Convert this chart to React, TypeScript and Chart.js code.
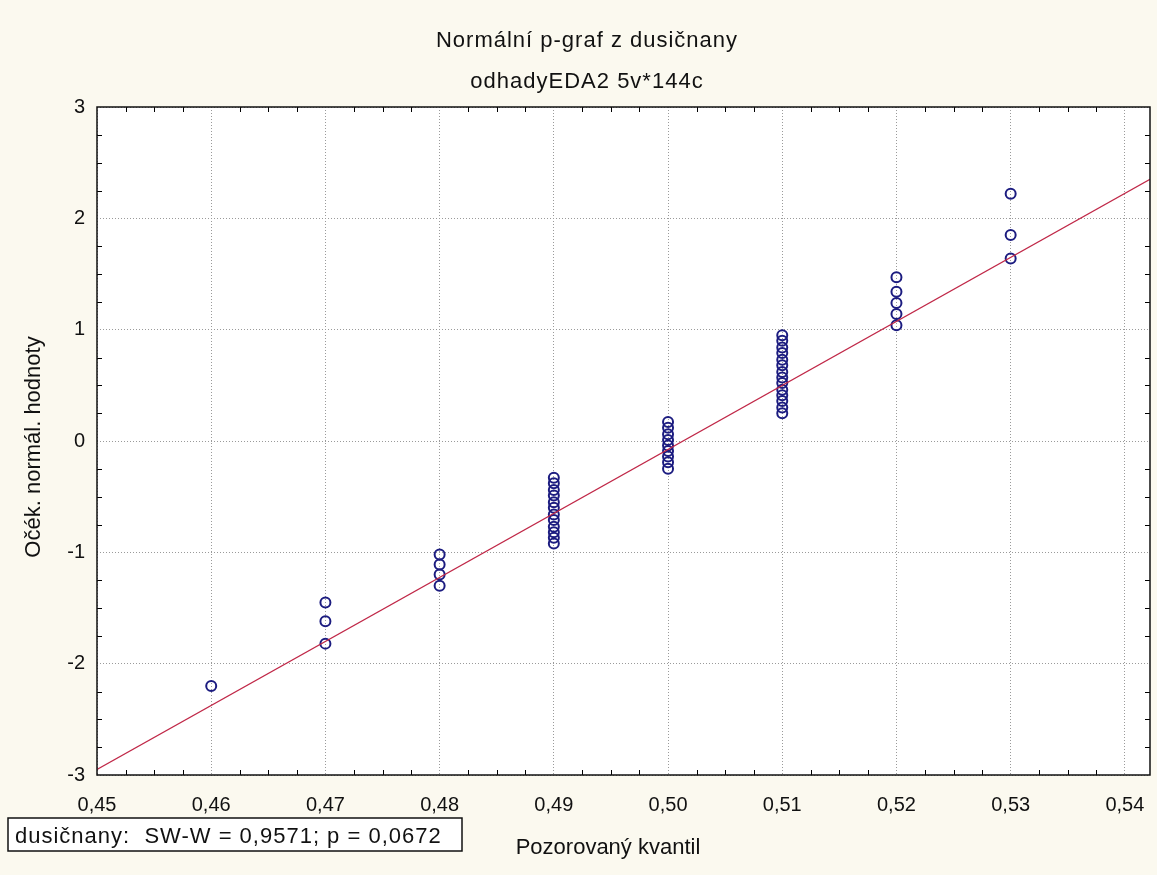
import React, { useEffect, useRef } from "react";
import { Chart, registerables } from "chart.js";
Chart.register(...registerables);

const TITLE = "Normální p-graf z dusičnany";
const SUBTITLE = "odhadyEDA2 5v*144c";
const X_TITLE = "Pozorovaný kvantil";
const Y_TITLE = "Očék. normál. hodnoty";
const STAT_TEXT = "dusičnany:  SW-W = 0,9571; p = 0,0672";

const xTickValues = [0.45, 0.46, 0.47, 0.48, 0.49, 0.5, 0.51, 0.52, 0.53, 0.54];
const yTickValues = [-3, -2, -1, 0, 1, 2, 3];
const X_MIN = 0.45;
const X_MAX = 0.5422;

// observed quantile groups and expected normal values
const q046 = [-2.2];
const q047 = [-1.45, -1.62, -1.82];
const q048 = [-1.02, -1.11, -1.2, -1.3];
const q049 = [-0.33, -0.38, -0.44, -0.49, -0.55, -0.6, -0.66, -0.71, -0.77, -0.82, -0.87, -0.92];
const q050 = [0.17, 0.12, 0.06, 0.01, -0.04, -0.09, -0.14, -0.19, -0.25];
const q051 = [0.95, 0.9, 0.84, 0.79, 0.73, 0.68, 0.62, 0.57, 0.52, 0.46, 0.41, 0.36, 0.3, 0.25];
const q052 = [1.47, 1.34, 1.24, 1.14, 1.04];
const q053 = [2.22, 1.85, 1.64];
const groupX = [0.46, 0.47, 0.48, 0.49, 0.5, 0.51, 0.52, 0.53];
const groupY = [q046, q047, q048, q049, q050, q051, q052, q053];

const fitX = [0.45, 0.5422];
const fitY = [-2.95, 2.35];

const FONT = '"Liberation Sans", Arial, sans-serif';
const BG = "#fbf9ef";

export default function App() {
  const ref = useRef<HTMLCanvasElement | null>(null);
  useEffect(() => {
    document.body.style.margin = "0";
    const canvas = ref.current!;
    const points: { x: number; y: number }[] = [];
    groupX.forEach((gx, i) => groupY[i].forEach((y) => points.push({ x: gx, y })));
    const line = fitX.map((x, i) => ({ x, y: fitY[i] }));

    const deco = {
      id: "deco",
      beforeDraw(chart: any) {
        const { ctx, chartArea: a } = chart;
        ctx.save();
        ctx.fillStyle = BG;
        ctx.fillRect(0, 0, chart.width, chart.height);
        ctx.fillStyle = "#ffffff";
        ctx.fillRect(a.left, a.top, a.right - a.left, a.bottom - a.top);
        ctx.restore();
      },
      afterDraw(chart: any) {
        const { ctx, chartArea: a } = chart;
        const xs = chart.scales.x;
        const ys = chart.scales.y;
        ctx.save();
        // minor ticks
        ctx.strokeStyle = "#000";
        ctx.lineWidth = 1;
        ctx.beginPath();
        for (let k = 0; k <= 36; k++) {
          if (k % 4 === 0) continue;
          const v = X_MIN + k * 0.0025;
          const px = Math.round(xs.getPixelForValue(v)) + 0.5;
          ctx.moveTo(px, a.bottom);
          ctx.lineTo(px, a.bottom - 5);
          ctx.moveTo(px, a.top);
          ctx.lineTo(px, a.top + 5);
        }
        for (let k = 0; k <= 24; k++) {
          if (k % 4 === 0) continue;
          const v = -3 + k * 0.25;
          const py = Math.round(ys.getPixelForValue(v)) + 0.5;
          ctx.moveTo(a.left, py);
          ctx.lineTo(a.left + 5, py);
          ctx.moveTo(a.right, py);
          ctx.lineTo(a.right - 5, py);
        }
        ctx.stroke();
        // frame
        ctx.lineWidth = 1.5;
        ctx.strokeStyle = "#111";
        ctx.strokeRect(a.left, a.top, a.right - a.left, a.bottom - a.top);
        // titles
        ctx.fillStyle = "#111";
        ctx.textAlign = "center";
        ctx.textBaseline = "alphabetic";
        ctx.font = `22px ${FONT}`;
        (ctx as any).letterSpacing = "1px";
        ctx.fillText(TITLE, 587, 47);
        ctx.fillText(SUBTITLE, 587, 88);
        (ctx as any).letterSpacing = "0px";
        ctx.fillText(X_TITLE, 608, 854);
        ctx.save();
        ctx.translate(40, 447);
        ctx.rotate(-Math.PI / 2);
        ctx.fillText(Y_TITLE, 0, 0);
        ctx.restore();
        // stats box
        ctx.fillStyle = "#ffffff";
        ctx.fillRect(8, 818, 454, 33);
        ctx.strokeStyle = "#111";
        ctx.lineWidth = 1.5;
        ctx.strokeRect(8, 818, 454, 33);
        ctx.fillStyle = "#111";
        ctx.textAlign = "left";
        (ctx as any).letterSpacing = "1px";
        ctx.fillText(STAT_TEXT, 15, 843);
        (ctx as any).letterSpacing = "0px";
        ctx.restore();
      },
    };

    const chart = new Chart(canvas, {
      type: "scatter",
      data: {
        datasets: [
          {
            type: "line",
            data: line,
            borderColor: "#c02848",
            borderWidth: 1.2,
            pointRadius: 0,
            fill: false,
            order: 0,
          } as any,
          {
            data: points,
            pointStyle: "circle",
            pointRadius: 5,
            pointBorderWidth: 2,
            borderColor: "#1c1c80",
            backgroundColor: "rgba(255,255,255,0)",
            order: 1,
          },
        ],
      },
      options: {
        animation: false,
        responsive: false,
        layout: { padding: { top: 107, left: 0, right: 4, bottom: 0 } },
        plugins: { legend: { display: false }, tooltip: { enabled: false } },
        scales: {
          x: {
            type: "linear",
            min: X_MIN,
            max: X_MAX,
            afterBuildTicks: (s: any) => {
              s.ticks = xTickValues.map((v) => ({ value: v }));
            },
            afterFit: (s: any) => {
              s.height = 100;
              s.paddingLeft = 0;
              s.paddingRight = 0;
            },
            grid: { color: "#9a9a9a", drawTicks: false, lineWidth: 1 },
            border: { display: false, dash: [1, 2] },
            ticks: {
              padding: 18,
              color: "#111",
              font: { family: FONT, size: 20 },
              maxRotation: 0,
              autoSkip: false,
              callback: (v: any) => Number(v).toFixed(2).replace(".", ","),
            },
          },
          y: {
            type: "linear",
            min: -3,
            max: 3,
            afterBuildTicks: (s: any) => {
              s.ticks = yTickValues.map((v) => ({ value: v }));
            },
            afterFit: (s: any) => {
              s.width = 97;
              s.paddingTop = 0;
              s.paddingBottom = 0;
            },
            grid: { color: "#9a9a9a", drawTicks: false, lineWidth: 1 },
            border: { display: false, dash: [1, 2] },
            ticks: {
              padding: 12,
              color: "#111",
              font: { family: FONT, size: 20 },
              autoSkip: false,
              callback: (v: any) => String(v),
            },
          },
        },
      },
      plugins: [deco],
    } as any);
    return () => chart.destroy();
  }, []);
  return <canvas ref={ref} width={1157} height={875} style={{ display: "block" }} />;
}
